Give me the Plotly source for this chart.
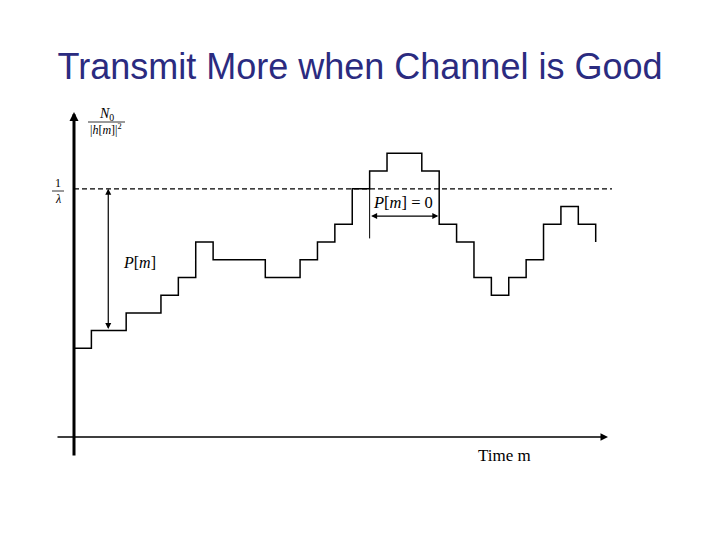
import plotly.graph_objects as go

# ---- data ----
# noise level N0/|h[m]|^2 per time slot m (in plot units)
time_m = list(range(31))
noise_level = [5, 6, 6, 7, 7, 8, 9, 11, 10, 10, 10, 9, 9, 10, 11, 12,
               14, 15, 16, 16, 15, 12, 11, 9, 8, 9, 10, 12, 13, 12, 11]
water_level = 14          # 1/lambda
pm_arrow_m = 1.97         # where P[m] arrow is drawn
pm_zero_start, pm_zero_end = 17, 20.95

# step line: value on [m, m+1); last point closes with vertical drop
xs = time_m[:-1] + [30, 30]
ys = noise_level[:-1] + [noise_level[-2], noise_level[-1]]

fig = go.Figure()
fig.add_trace(go.Scatter(x=xs, y=ys, mode="lines", line=dict(shape="hv", color="black", width=1.5),
                         hoverinfo="skip", showlegend=False))

# pixel mapping: px = 74 + 17.39*m ; py = 437 - 17.73*v
sx, sy = 17.39, 17.73
xr = [-74 / sx, (720 - 74) / sx]
yr = [(437 - 540) / sy, 437 / sy]

shapes = []
# dashed water level
shapes.append(dict(type="line", x0=0, x1=(612 - 74) / sx, y0=water_level, y1=water_level,
                   line=dict(color="black", width=1.2, dash="5px,3px")))
# P[m]=0 extension line
shapes.append(dict(type="line", x0=pm_zero_start, x1=pm_zero_start, y0=water_level, y1=11.2,
                   line=dict(color="black", width=1)))
# fraction bars
shapes.append(dict(type="line", x0=(88 - 74) / sx, x1=(125 - 74) / sx, y0=(437 - 122) / sy, y1=(437 - 122) / sy,
                   line=dict(color="black", width=0.8)))
shapes.append(dict(type="line", x0=(52 - 74) / sx, x1=(64 - 74) / sx, y0=(437 - 191) / sy, y1=(437 - 191) / sy,
                   line=dict(color="black", width=0.8)))

annotations = []
# y axis arrow
annotations.append(dict(x=0, y=(437 - 112) / sy, ax=0, ay=(437 - 457) / sy, xref="x", yref="y",
                        axref="x", ayref="y", showarrow=True, arrowhead=2, arrowsize=0.6,
                        arrowwidth=3, arrowcolor="black", text=""))
# x axis arrow
annotations.append(dict(x=(608 - 74) / sx, y=0, ax=(56 - 74) / sx, ay=0, xref="x", yref="y",
                        axref="x", ayref="y", showarrow=True, arrowhead=2, arrowsize=1,
                        arrowwidth=1.5, arrowcolor="black", text=""))
# P[m] double arrow
annotations.append(dict(x=pm_arrow_m, y=water_level, ax=pm_arrow_m, ay=noise_level[1], xref="x", yref="y",
                        axref="x", ayref="y", showarrow=True, arrowhead=2, startarrowhead=2,
                        arrowside="end+start", arrowsize=1, startarrowsize=1,
                        arrowwidth=1.2, arrowcolor="black", text=""))
# P[m]=0 double arrow
annotations.append(dict(x=pm_zero_end, y=12.46, ax=pm_zero_start, ay=12.46, xref="x", yref="y",
                        axref="x", ayref="y", showarrow=True, arrowhead=2, startarrowhead=2,
                        arrowside="end+start", arrowsize=1, startarrowsize=1,
                        arrowwidth=1.2, arrowcolor="black", text=""))

serif = "Liberation Serif"
def txt(x, y, s, size=15, **kw):
    annotations.append(dict(x=x, y=y, xref="x", yref="y", text=s, showarrow=False,
                            font=dict(family=serif, size=size, color="black"), **kw))

txt((139 - 74) / sx, (437 - 262) / sy, "<i>P</i>[<i>m</i>]", size=16)
txt((403 - 74) / sx, (437 - 202) / sy, "<i>P</i>[<i>m</i>] = 0", size=16.5)
txt((106 - 74) / sx, (437 - 114) / sy, "<i>N</i><sub>0</sub>", size=14)
txt((106 - 74) / sx, (437 - 129) / sy, "|<i>h</i>[<i>m</i>]|<sup>2</sup>", size=12)
txt((58 - 74) / sx, (437 - 183) / sy, "1", size=12)
txt((58 - 74) / sx, (437 - 199) / sy, "<i>λ</i>", size=12)
txt((504 - 74) / sx, (437 - 455) / sy, "Time m", size=17)

fig.update_layout(
    width=720, height=540, margin=dict(l=0, r=0, t=0, b=0),
    paper_bgcolor="white", plot_bgcolor="white",
    xaxis=dict(range=xr, visible=False, fixedrange=True),
    yaxis=dict(range=yr, visible=False, fixedrange=True),
    shapes=shapes, annotations=annotations,
    title=dict(text="Transmit More when Channel is Good", x=0.5, xanchor="center",
               y=1 - 66 / 540, yanchor="middle",
               font=dict(family="Liberation Sans", size=36, color="#2B2B80")),
    showlegend=False,
)

fig.write_html("out.html", config={"displayModeBar": False},
               post_script="document.body.style.margin='0';document.body.style.padding='0';")
